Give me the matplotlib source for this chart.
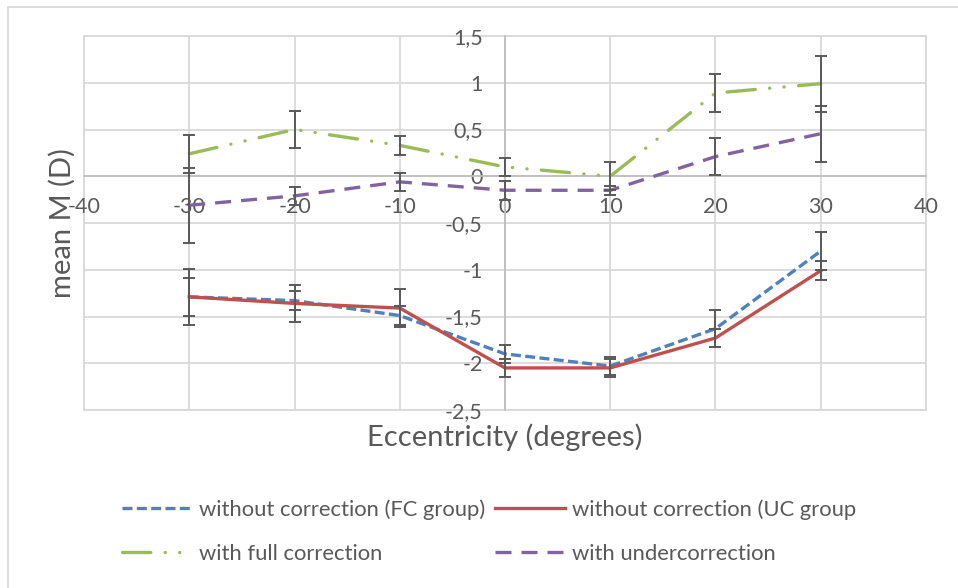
import numpy as np
import matplotlib
matplotlib.use("Agg")
import matplotlib.pyplot as plt
from matplotlib.lines import Line2D
from matplotlib.ticker import FixedLocator, FuncFormatter

plt.rcParams['font.family'] = ['Lato', 'DejaVu Sans']

# eccentricity (degrees)
ecc = [-30, -20, -10, 0, 10, 20, 30]

# mean M (D) per series, with error bar half-widths
fc_vals = [-1.29, -1.33, -1.49, -1.90, -2.03, -1.63, -0.80]
fc_err = [0.2, 0.1, 0.1, 0.1, 0.1, 0.2, 0.2]
uc_vals = [-1.29, -1.36, -1.41, -2.05, -2.05, -1.73, -1.01]
uc_err = [0.3, 0.2, 0.2, 0.1, 0.1, 0.1, 0.1]
full_vals = [0.24, 0.50, 0.33, 0.10, 0.0, 0.89, 0.99]
full_err = [0.2, 0.2, 0.1, 0.1, 0.15, 0.2, 0.3]
under_vals = [-0.31, -0.21, -0.06, -0.15, -0.15, 0.21, 0.455]
under_err = [0.4, 0.1, 0.1, 0.1, 0.05, 0.2, 0.3]

labels = ['without correction (FC group)', 'without correction (UC group',
          'with full correction', 'with undercorrection']

txt = '#595959'
grid_c = '#d9d9d9'

fig = plt.figure(figsize=(9.58, 5.88), dpi=100)
W, H = 958.0, 588.0
ax = fig.add_axes([84 / W, 1 - 410 / H, (926 - 84) / W, (410 - 36) / H])

lw = 2.4
l_fc, = ax.plot(ecc, fc_vals, color='#4f81bd', lw=lw, dashes=(3.0, 1.3), zorder=3)
l_uc, = ax.plot(ecc, uc_vals, color='#c0504d', lw=lw, zorder=3)
l_full, = ax.plot(ecc, full_vals, color='#9bbb59', lw=lw,
                  dashes=(8.5, 4.3, 0.05, 4.3, 0.05, 4.3), dash_capstyle='round', zorder=3)
l_under, = ax.plot(ecc, under_vals, color='#8064a2', lw=lw, dashes=(4.8, 3.0), zorder=3)

for vals, err in [(fc_vals, fc_err), (uc_vals, uc_err),
                  (full_vals, full_err), (under_vals, under_err)]:
    ax.errorbar(ecc, vals, yerr=err, fmt='none', ecolor=txt, elinewidth=1.4,
                capsize=4.5, capthick=1.4, zorder=4)

ax.set_xlim(-40, 40)
ax.set_ylim(-2.5, 1.5)
ax.xaxis.set_major_locator(FixedLocator(np.arange(-40, 41, 10)))
ax.yaxis.set_major_locator(FixedLocator(np.arange(-2.5, 1.51, 0.5)))
fmt = FuncFormatter(lambda v, p: ('%g' % round(v, 2)).replace('.', ',').replace('−', '-'))
ax.xaxis.set_major_formatter(fmt)
ax.yaxis.set_major_formatter(fmt)

ax.spines['left'].set_position(('data', 0))
ax.spines['bottom'].set_position(('data', 0))
ax.spines['right'].set_visible(False)
ax.spines['top'].set_visible(False)
for s in ['left', 'bottom']:
    ax.spines[s].set_color('#bfbfbf')
    ax.spines[s].set_linewidth(1.3)
    ax.spines[s].set_zorder(2)

ax.tick_params(axis='both', length=0, labelsize=15.5, labelcolor=txt)
ax.tick_params(axis='y', pad=16)
ax.tick_params(axis='x', pad=15)
ax.grid(True, color=grid_c, lw=1.3)
ax.set_axisbelow(True)
ax.patch.set_edgecolor(grid_c)
ax.patch.set_linewidth(1.3)

fig.text(505 / W, 1 - 437 / H, 'Eccentricity (degrees)', ha='center', va='center',
         fontsize=21, color=txt)
fig.text(62 / W, 1 - 223 / H, 'mean M (D)', ha='center', va='center', rotation=90,
         fontsize=21, color=txt)

# outer chart frame (top and left edges visible)
fig.add_artist(Line2D([8 / W, 8 / W], [0, 1 - 7 / H], transform=fig.transFigure,
                      color=grid_c, lw=1.3))
fig.add_artist(Line2D([8 / W, 1], [1 - 7 / H, 1 - 7 / H], transform=fig.transFigure,
                      color=grid_c, lw=1.3))

leg = fig.legend([l_fc, l_full, l_uc, l_under],
                 [labels[0], labels[2], labels[1], labels[3]],
                 ncol=2, loc='upper left', bbox_to_anchor=(122 / W, 1 - 499 / H),
                 frameon=False, fontsize=15.8, handlelength=3.2, handletextpad=0.32,
                 columnspacing=0.42, labelspacing=1.1, borderpad=0, borderaxespad=0)
for t in leg.get_texts():
    t.set_color(txt)

fig.savefig('out.png', dpi=100)
